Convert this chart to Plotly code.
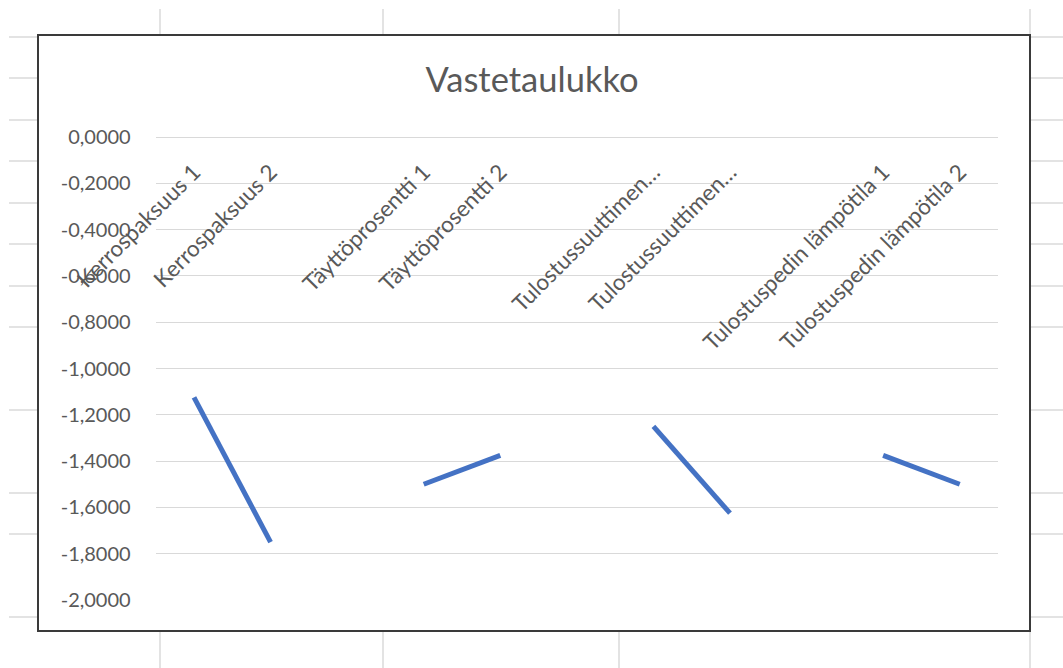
import plotly.graph_objects as go

# ---- data ----
positions = [0, 1, 2, 3, 4, 5, 6, 7, 8, 9, 10]
values = [-1.125, -1.75, None, -1.5, -1.375, None, -1.25, -1.625, None, -1.375, -1.5]
tick_positions = [0, 1, 3, 4, 6, 7, 9, 10]
tick_labels = ["Kerrospaksuus 1", "Kerrospaksuus 2",
               "Täyttöprosentti 1", "Täyttöprosentti 2",
               "Tulostussuuttimen…", "Tulostussuuttimen…",
               "Tulostuspedin lämpötila 1", "Tulostuspedin lämpötila 2"]
y_ticks = [0.0, -0.2, -0.4, -0.6, -0.8, -1.0, -1.2, -1.4, -1.6, -1.8, -2.0]
y_tick_labels = ["0,0000", "-0,2000", "-0,4000", "-0,6000", "-0,8000", "-1,0000",
                 "-1,2000", "-1,4000", "-1,6000", "-1,8000", "-2,0000"]
title = "Vastetaulukko"

W, H = 1063, 668
def px(x): return x / W
def py(y): return 1 - y / H

FONT = "Lato"
GRAY = "#595959"

fig = go.Figure()
fig.add_trace(go.Scatter(
    x=positions, y=values, mode="lines", connectgaps=False,
    line=dict(color="#4472C4", width=5), hoverinfo="skip", showlegend=False,
))

shapes = []
sheet = "#DADADA"
# spreadsheet row lines
for yy in [37, 78, 120, 161, 203, 244, 286, 327, 410, 493, 534, 617]:
    shapes.append(dict(type="line", xref="paper", yref="paper", layer="below",
                       x0=px(9), x1=1, y0=py(yy), y1=py(yy),
                       line=dict(color=sheet, width=1.5)))
# spreadsheet column lines
for xx in [160, 383, 619, 1030]:
    shapes.append(dict(type="line", xref="paper", yref="paper", layer="below",
                       x0=px(xx), x1=px(xx), y0=py(9), y1=0,
                       line=dict(color=sheet, width=1.5)))
# chart frame
shapes.append(dict(type="rect", xref="paper", yref="paper", layer="below",
                   x0=px(38), x1=px(1030), y0=py(631), y1=py(35),
                   fillcolor="white", line=dict(color="#3A3A3A", width=2)))

y_top = py(137)
y_bot = py(600)

fig.update_layout(
    width=W, height=H, margin=dict(l=0, r=0, t=0, b=0, autoexpand=False),
    paper_bgcolor="white", plot_bgcolor="rgba(0,0,0,0)",
    font=dict(family=FONT, color=GRAY, size=20),
    shapes=shapes,
    title=dict(text=title, x=px(532), xanchor="center", y=py(80), yanchor="middle",
               font=dict(family=FONT, size=34.5, color=GRAY), automargin=False),
    xaxis=dict(
        domain=[px(155.7), px(998)], range=[-0.5, 10.5],
        tickmode="array", tickvals=tick_positions, ticktext=tick_labels,
        tickangle=-45, side="bottom", anchor="free", position=y_top,
        showgrid=False, zeroline=False, showline=True, linecolor="#D9D9D9", linewidth=1,
        ticks="", ticklabelstandoff=12, automargin=False,
        tickfont=dict(family=FONT, size=22.5, color=GRAY),
    ),
    yaxis=dict(
        domain=[y_bot, y_top], range=[-2.0, 0.0],
        tickmode="array", tickvals=y_ticks, ticktext=y_tick_labels,
        showgrid=True, gridcolor="#D9D9D9", gridwidth=1, zeroline=False,
        showline=False, ticks="", ticklabelstandoff=24, automargin=False,
        tickfont=dict(family=FONT, size=20, color=GRAY),
    ),
)

fig.write_html("out.html")
